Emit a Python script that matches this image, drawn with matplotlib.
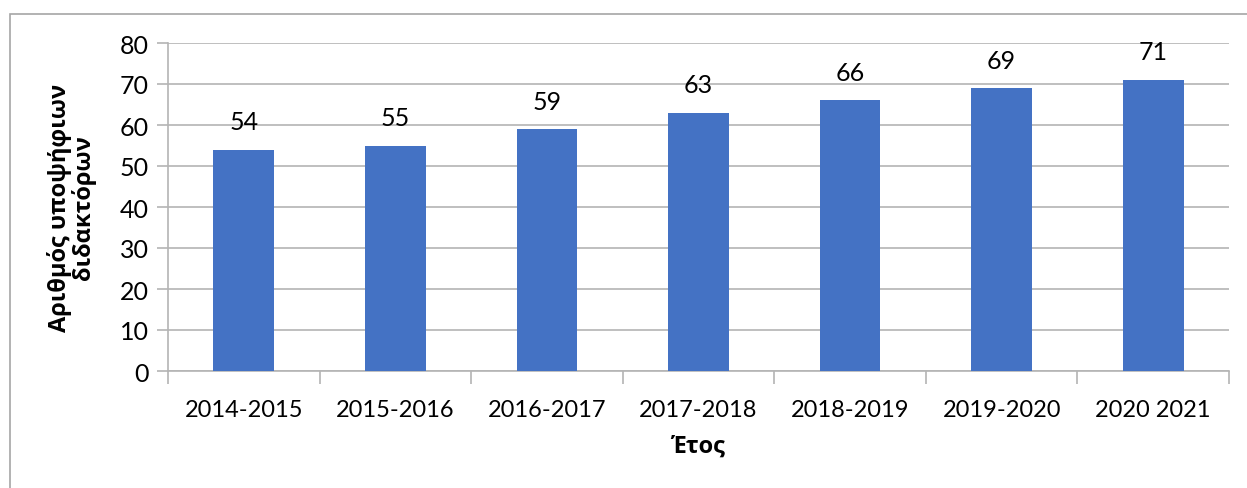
import matplotlib
matplotlib.use("Agg")
import matplotlib.pyplot as plt
from matplotlib.patches import Rectangle

plt.rcParams['font.family'] = ['Lato', 'Noto Sans', 'DejaVu Sans']

# Dados
anos = ["2014-2015", "2015-2016", "2016-2017", "2017-2018", "2018-2019", "2019-2020", "2020 2021"]
valores = [54, 55, 59, 63, 66, 69, 71]

cinza = "#b4b4b4"
azul = "#4472c4"
fonte_titulos = ["Open Sans", "DejaVu Sans"]

fig = plt.figure(figsize=(12.47, 4.89), dpi=100)
ax = fig.add_axes([168 / 1247, 1 - 372 / 489, (1229 - 168) / 1247, (372 - 44) / 489])

# moldura do grafico (so esquerda e topo visiveis)
fig.patches.append(Rectangle((10 / 1247, -0.1), 1.2, 1 - 15 / 489 + 0.1,
                             transform=fig.transFigure, fill=False,
                             edgecolor="#a6a6a6", linewidth=1.2))

x = range(len(anos))
ax.bar(x, valores, width=0.40, color=azul, zorder=3)
for i, v in zip(x, valores):
    ax.text(i, v + 4, str(v), ha="center", va="bottom", fontsize=18)

ax.set_xlim(-0.5, len(anos) - 0.5)
ax.set_ylim(0, 80)
ax.set_yticks(range(0, 81, 10))
ax.yaxis.grid(True, color=cinza, linewidth=1.2, zorder=0)
ax.set_xticks(list(x))
ax.set_xticklabels(anos, fontsize=17)
ax.set_xticks([i - 0.5 for i in range(len(anos) + 1)], minor=True)
ax.tick_params(axis="x", which="major", length=0, pad=20)
ax.tick_params(axis="x", which="minor", length=9, color=cinza, width=1.2)
ax.tick_params(axis="y", length=8, color=cinza, width=1.2, labelsize=18, pad=6)

for s in ["top", "right"]:
    ax.spines[s].set_visible(False)
for s in ["left", "bottom"]:
    ax.spines[s].set_color(cinza)
    ax.spines[s].set_linewidth(1.2)

ax.set_xlabel("Έτος", fontsize=17, fontweight="bold", labelpad=10, family=fonte_titulos)
ax.set_ylabel("Αριθμός υποψήφιων\nδιδακτόρων", fontsize=17, fontweight="bold",
              labelpad=17, linespacing=0.95, family=fonte_titulos)

fig.savefig("out.png", dpi=100)
